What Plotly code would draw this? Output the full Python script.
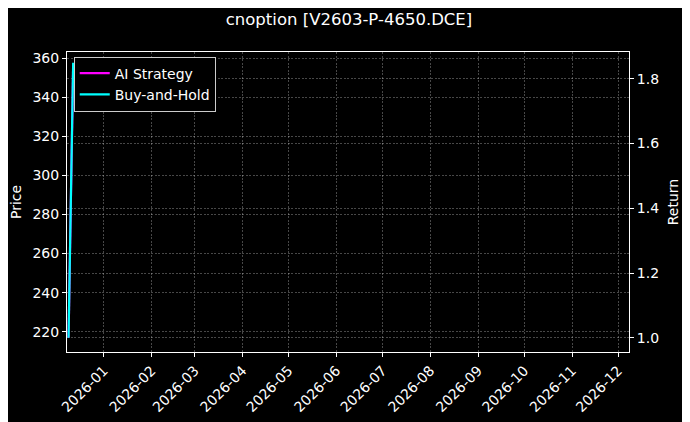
import plotly.graph_objects as go

dates = ["2025-12-09", "2025-12-12"]
ai_strategy = [1.0, 1.84]
buy_hold = [1.0, 1.85]
price_ticks = [220, 240, 260, 280, 300, 320, 340, 360]
return_ticks = [1.0, 1.2, 1.4, 1.6, 1.8]
month_ticks = ["2026-%02d-01" % m for m in range(1, 13)]

font = dict(family="DejaVu Sans", size=14, color="white")
grid = "rgba(255,255,255,0.28)"
gdash = "2px,1.5px"

fig = go.Figure()
# empty trace so the left price axis is drawn
fig.add_trace(go.Scatter(x=[], y=[], mode="lines", showlegend=False,
                         hoverinfo="skip", yaxis="y"))
fig.add_trace(go.Scatter(x=dates, y=ai_strategy, name="AI Strategy", mode="lines",
                         line=dict(color="#ff00ff", width=2.2), yaxis="y2"))
fig.add_trace(go.Scatter(x=dates, y=buy_hold, name="Buy-and-Hold", mode="lines",
                         line=dict(color="#00ffff", width=2.2), yaxis="y2"))

fig.update_layout(
    width=682, height=414,
    paper_bgcolor="black", plot_bgcolor="black",
    font=font,
    margin=dict(l=58.5, r=60.5, t=44, b=70, autoexpand=False),
    title=dict(text="cnoption [V2603-P-4650.DCE]", x=0.5, xanchor="center",
               y=1 - 11 / 414, yanchor="middle", font=dict(size=16.5, color="white")),
    showlegend=True,
    legend=dict(x=0.012, y=0.985, xanchor="left", yanchor="top",
                bgcolor="black", bordercolor="#cccccc", borderwidth=1,
                font=dict(size=14, color="white"), tracegroupgap=0,
                itemwidth=30),
    xaxis=dict(type="date", range=["2025-12-08", "2026-12-08"], automargin=False,
               tickvals=month_ticks, tickformat="%Y-%m", tickangle=-45,
               showline=True, linecolor="white", linewidth=1, mirror=True,
               ticks="outside", ticklen=4, tickcolor="white",
               showgrid=True, gridcolor=grid, griddash=gdash, gridwidth=0.6,
               zeroline=False),
    yaxis=dict(range=[209.6, 363.2], tickvals=price_ticks, automargin=False,
               title=dict(text="Price", standoff=8, font=dict(size=14)),
               showline=True, linecolor="white", linewidth=1,
               ticks="outside", ticklen=4, tickcolor="white",
               showgrid=True, gridcolor=grid, griddash=gdash, gridwidth=0.6,
               zeroline=False),
    yaxis2=dict(range=[0.956, 1.883], tickvals=return_ticks, tickformat=".1f",
                overlaying="y", side="right", automargin=False,
                title=dict(text="Return", standoff=10, font=dict(size=14)),
                showline=True, linecolor="white", linewidth=1,
                ticks="outside", ticklen=4, tickcolor="white",
                showgrid=True, gridcolor=grid, griddash=gdash, gridwidth=0.6,
                zeroline=False),
)

fig.write_html("out.html")
